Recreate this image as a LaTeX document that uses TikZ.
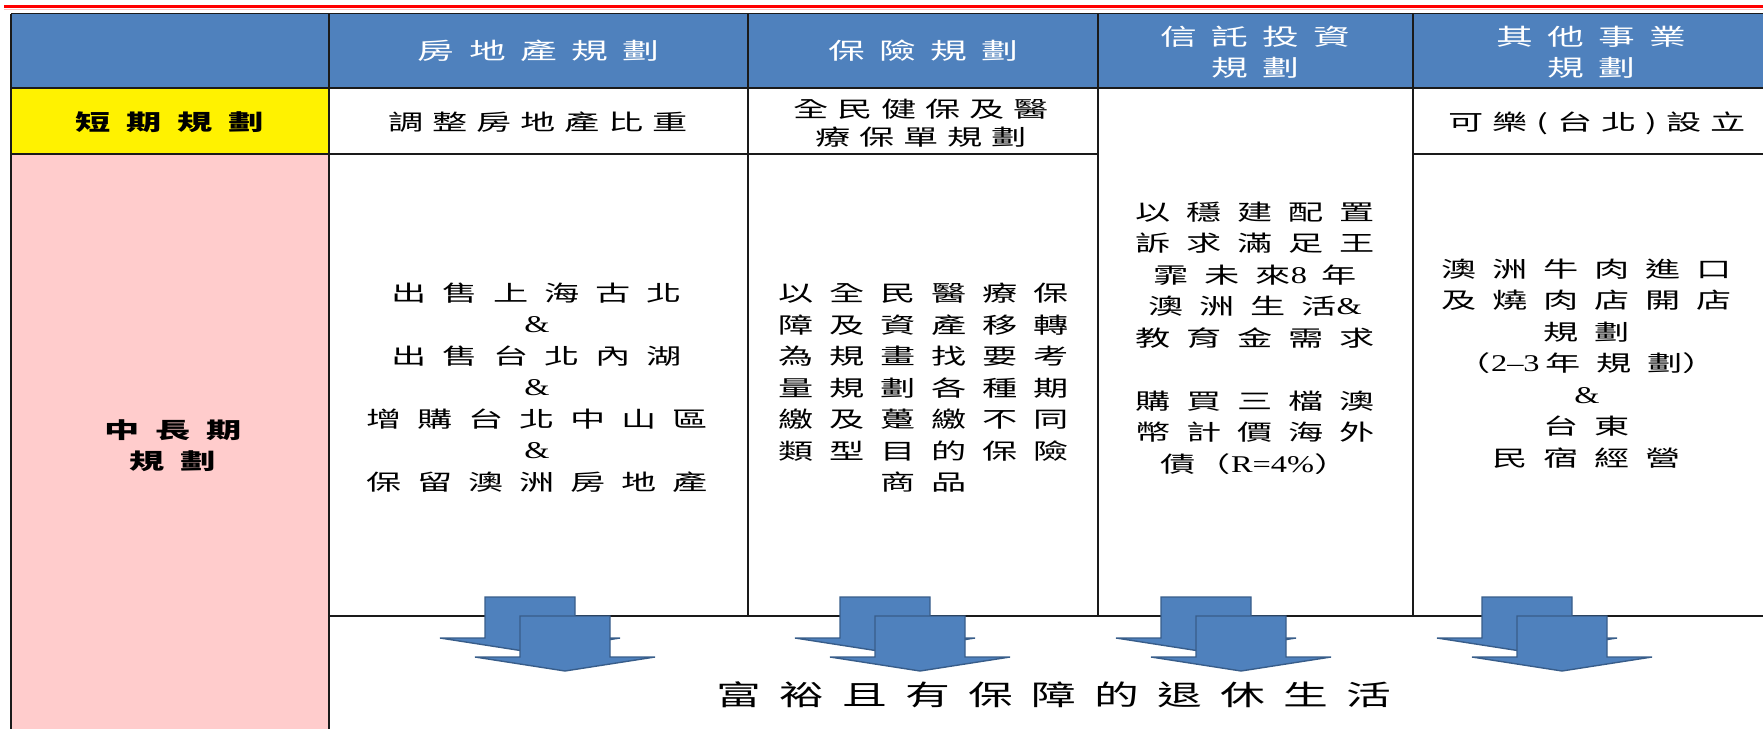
\documentclass[tikz,border=0pt]{standalone}
\usepackage{fontspec}
\newfontfamily\cjkS[FakeStretch=1.6,LetterSpace=40]{Noto Sans CJK TC}
\newfontfamily\cjkL[FakeStretch=1.6,LetterSpace=72]{Noto Sans CJK TC}
\newfontfamily\cjkH[FakeStretch=1.6,LetterSpace=62]{Noto Sans CJK TC}
\newfontfamily\cjkX[FakeStretch=1.6,LetterSpace=65]{Noto Sans CJK TC}
\newfontfamily\latf[FakeStretch=1.35]{Liberation Serif}
\definecolor{hdr}{HTML}{4F81BD}
\definecolor{arrowb}{HTML}{385D8A}
\definecolor{pinkc}{HTML}{FFCCCC}
\definecolor{gridc}{HTML}{1A1A1A}
\newcommand{\amp}{{\latf\fontsize{24}{31.5}\selectfont\&}}
\tikzset{
  grid line/.style={draw=gridc,line width=1.6pt},
  hdrtext/.style={inner sep=0pt,align=center,text=white,font={\cjkH\fontsize{23}{31}\selectfont}},
  shorttext/.style={inner sep=0pt,align=center,text=black,font={\cjkS\fontsize{22}{28}\selectfont}},
  longtext/.style={inner sep=0pt,align=center,text=black,font={\cjkL\fontsize{22}{31.5}\selectfont}},
  rowlabel/.style={inner sep=0pt,align=center,text=black,font={\cjkL\bfseries\fontsize{22}{31}\selectfont}},
  bigtext/.style={inner sep=0pt,align=center,text=black,font={\cjkX\fontsize{28}{34}\selectfont}},
  arrowshape/.style={fill=hdr,draw=arrowb,line width=1.4pt,line join=miter}
}
\begin{document}
\begin{tikzpicture}[x=1pt,y=-1pt]
\useasboundingbox (0,0) rectangle (1763,728);
\clip (0,0) rectangle (1763,728);
% fills
\fill[hdr] (11,13.5) rectangle (1770,87.7);
\fill[yellow] (11,87.7) rectangle (329,154);
\fill[pinkc] (11,154) rectangle (329,730);
% red rule
\draw[red!25,line width=1pt] (4,9) -- (1763,9);
\draw[red,line width=3pt] (4,6) -- (1763,6);
% grid
\draw[grid line] (11,13.5) -- (1770,13.5);
\draw[grid line] (11,13.5) -- (11,730);
\draw[grid line] (329,13.5) -- (329,730);
\draw[grid line] (11,87.7) -- (1770,87.7);
\draw[grid line] (11,154) -- (1098,154);
\draw[grid line] (1413,154) -- (1770,154);
\draw[grid line] (748,13.5) -- (748,616);
\draw[grid line] (1098,13.5) -- (1098,616);
\draw[grid line] (1413,13.5) -- (1413,616);
\draw[grid line] (329,616) -- (1770,616);
% header texts
\node[hdrtext] (h1) at (538.5,51) {房地產規劃};
\node[hdrtext] (h2) at (923,51) {保險規劃};
\node[hdrtext] (h3) at (1255.5,52.5) {信託投資\\規劃};
\node[hdrtext] (h4) at (1591,52.5) {其他事業\\規劃};
% short term row
\node[rowlabel] (s0) at (170,122) {短期規劃};
\node[shorttext] (s1) at (538,122) {調整房地產比重};
\node[shorttext] (s2) at (921,123) {全民健保及醫\\療保單規劃};
\node[shorttext] (s4) at (1597,123) {可樂(台北)設立};
% long term row
\node[rowlabel] (l0) at (173,445.5) {中長期\\規劃};
\node[longtext] (l1) at (537,387.5) {出售上海古北\\\amp\\出售台北內湖\\\amp\\增購台北中山區\\\amp\\保留澳洲房地產};
\node[longtext] (l2) at (923.5,388) {以全民醫療保\\障及資產移轉\\為規畫找要考\\量規劃各種期\\繳及躉繳不同\\類型目的保險\\商品};
\node[longtext] (l3) at (1255,338) {以穩建配置\\訴求滿足王\\霏未來{\latf\fontsize{24}{31.5}\selectfont 8}\hspace{14pt}年\\澳洲生活\amp\\教育金需求\\[31.5pt]購買三檔澳\\幣計價海外\\債{\cjkS（}{\latf\fontsize{24}{31.5}\selectfont R=4\%}{\cjkS ）}};
\node[longtext] (l4) at (1587,363.5) {澳洲牛肉進口\\及燒肉店開店\\規劃\\{\cjkS（}{\latf\fontsize{24}{31.5}\selectfont 2–3}\hspace{6pt}年規劃{\cjkS ）}\\\amp\\台東\\民宿經營};
% arrows
\foreach \c in {565,920,1241,1562}{
  \draw[arrowshape] (\c-80,597) -- (\c+10,597) -- (\c+10,638) -- (\c+55,638) -- (\c-35,652) -- (\c-125,638) -- (\c-80,638) -- cycle;
  \draw[arrowshape] (\c-45,616) -- (\c+45,616) -- (\c+45,657) -- (\c+90,657) -- (\c,671) -- (\c-90,657) -- (\c-45,657) -- cycle;
}
% bottom text
\node[bigtext] (goal) at (1053.5,695) {富裕且有保障的退休生活};
\end{tikzpicture}
\end{document}
